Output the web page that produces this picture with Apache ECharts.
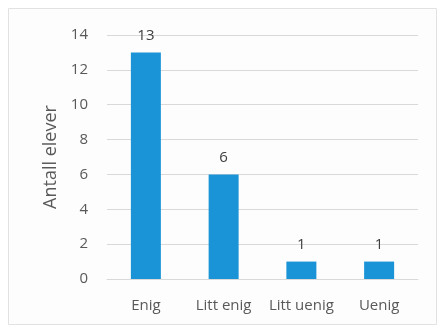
<!DOCTYPE html>
<html>
<head>
<meta charset="utf-8">
<script src="https://cdn.jsdelivr.net/npm/echarts@6/dist/echarts.min.js"></script>
<style>
  html, body { margin: 0; padding: 0; background: #fff; }
  #main { width: 440px; height: 329px; }
</style>
</head>
<body>
<div id="main"></div>
<script>
// svarkategorier og antall elever
var categories = ['Enig', 'Litt enig', 'Litt uenig', 'Uenig'];
var counts = [13, 6, 1, 1];
var yTicks = [0, 2, 4, 6, 8, 10, 12, 14];

var chart = echarts.init(document.getElementById('main'));
chart.setOption({
    backgroundColor: '#fff',
    textStyle: { fontFamily: 'Open Sans' },
    graphic: [{
        type: 'rect',
        shape: { x: 8.5, y: 8.5, width: 428, height: 316 },
        style: { fill: '#fdfdfd', stroke: '#e2e2e2', lineWidth: 1 },
        z: -10
    }],
    grid: { left: 107, right: 22, top: 35, bottom: 50 },
    xAxis: {
        type: 'category',
        data: categories,
        axisLine: { show: true, lineStyle: { color: '#d9d9d9' } },
        axisTick: { show: false },
        axisLabel: { color: '#595959', fontSize: 15, margin: 19, interval: 0 }
    },
    yAxis: {
        type: 'value',
        min: yTicks[0],
        max: yTicks[yTicks.length - 1],
        interval: 2,
        name: 'Antall elever',
        nameLocation: 'middle',
        nameGap: 46,
        nameTextStyle: { color: '#595959', fontSize: 18 },
        axisLine: { show: false },
        axisTick: { show: false },
        axisLabel: { color: '#595959', fontSize: 15, margin: 19 },
        splitLine: { lineStyle: { color: '#d9d9d9', width: 1 } }
    },
    series: [{
        type: 'bar',
        data: counts,
        barWidth: 30,
        itemStyle: { color: '#1a94d6' },
        label: {
            show: true,
            position: 'top',
            distance: 9,
            color: '#404040',
            fontSize: 15
        }
    }]
});
</script>
</body>
</html>
